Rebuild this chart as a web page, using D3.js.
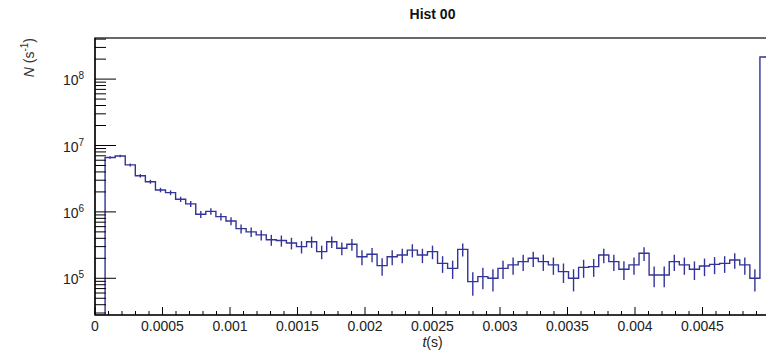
<!DOCTYPE html>
<html>
<head>
<meta charset="utf-8">
<script src="https://cdn.jsdelivr.net/npm/d3@7/dist/d3.min.js"></script>
<style>
  html, body { margin: 0; padding: 0; background: #fff; }
  svg { display: block; font-family: "Liberation Sans", Arial, sans-serif; }
</style>
</head>
<body>
<svg id="chart" width="766" height="355"></svg>
<script>
// Histogram definition: time range and number of bins
const title = "Hist 00";
const xMin = 0;
const xMax = 0.005;
const nBins = 67;

// Bin contents, rate N in s^-1 (bin 0 is empty)
const rates = [
  0, 6.6e6, 6.95e6, 5.1e6, 3.5e6, 2.85e6, 2.14e6, 1.95e6, 1.55e6, 1.32e6,
  9.2e5, 1.02e6, 8.5e5, 7.3e5, 5.6e5, 5.0e5, 4.5e5, 3.8e5, 3.7e5, 3.4e5,
  3.0e5, 3.56e5, 2.52e5, 3.56e5, 2.83e5, 3.25e5, 2.11e5, 2.3e5, 1.55e5, 2.11e5,
  2.24e5, 2.66e5, 2.24e5, 2.52e5, 1.68e5, 1.41e5, 2.73e5, 8.9e4, 1.06e5, 1.0e5,
  1.41e5, 1.59e5, 1.78e5, 2.0e5, 1.78e5, 1.59e5, 1.26e5, 1.0e5, 1.46e5, 1.5e5,
  2.24e5, 1.78e5, 1.37e5, 1.59e5, 2.38e5, 1.12e5, 1.12e5, 1.78e5, 1.59e5, 1.37e5,
  1.53e5, 1.62e5, 1.68e5, 1.89e5, 1.59e5, 1.0e5, 2.15e8
];

// Axis ticks and labels (the 0.005 edge sits at the very border and is not labelled)
const xTickValues = [0, 0.0005, 0.001, 0.0015, 0.002, 0.0025, 0.003, 0.0035, 0.004, 0.0045];
const xTickLabels = ["0", "0.0005", "0.001", "0.0015", "0.002", "0.0025", "0.003", "0.0035", "0.004", "0.0045"];
const yDecadeExponents = [5, 6, 7, 8];
const yRange = [2.8e4, 4.16e8];

// Frame geometry
const frame = { left: 95, right: 770, top: 38, bottom: 315 };
const lineColor = "#333399";

const svg = d3.select("#chart");

const x = d3.scaleLinear().domain([xMin, xMax]).range([frame.left, frame.right]);
const y = d3.scaleLog().domain(yRange).range([frame.bottom, frame.top]).clamp(true);

const binWidth = (xMax - xMin) / nBins;
const bins = rates.map((v, i) => ({
  lo: xMin + i * binWidth,
  hi: xMin + (i + 1) * binWidth,
  mid: xMin + (i + 0.5) * binWidth,
  v,
  // Poisson uncertainty of the rate: sqrt(counts) / binWidth
  err: Math.sqrt(v / binWidth)
}));

svg.append("defs").append("clipPath").attr("id", "frameClip")
  .append("rect")
  .attr("x", frame.left).attr("y", frame.top - 1)
  .attr("width", frame.right - frame.left).attr("height", frame.bottom - frame.top + 1);
const plot = svg.append("g").attr("clip-path", "url(#frameClip)");

const yv = v => (v > 0 ? y(v) : frame.bottom);

// Step outline of the histogram
const pts = [[x(xMin), frame.bottom]];
bins.forEach(b => {
  pts.push([x(b.lo), yv(b.v)]);
  pts.push([x(b.hi), yv(b.v)]);
});
pts.push([x(xMax), frame.bottom]);

plot.append("path")
  .attr("d", d3.line()(pts))
  .attr("fill", "none")
  .attr("stroke", lineColor)
  .attr("stroke-width", 1.4);

// Vertical error bars at bin centres
plot.selectAll("line.err")
  .data(bins.filter(b => b.v > 0))
  .join("line")
  .attr("class", "err")
  .attr("x1", b => x(b.mid)).attr("x2", b => x(b.mid))
  .attr("y1", b => yv(Math.max(b.v - b.err, 0)))
  .attr("y2", b => yv(b.v + b.err))
  .attr("stroke", lineColor)
  .attr("stroke-width", 1.4);

// Frame
svg.append("rect")
  .attr("x", frame.left).attr("y", frame.top)
  .attr("width", frame.right - frame.left).attr("height", frame.bottom - frame.top)
  .attr("fill", "none")
  .attr("stroke", "#444")
  .attr("stroke-width", 1.6);

// X axis: ticks point into the frame
const xAxisG = svg.append("g");
xAxisG.append("line")
  .attr("x1", frame.left).attr("x2", frame.right)
  .attr("y1", frame.bottom).attr("y2", frame.bottom)
  .attr("stroke", "#000").attr("stroke-width", 1.2);

const xMinor = d3.range(0, 51).map(i => i * 0.0001).filter(t => t <= xMax + 1e-12);
xAxisG.selectAll("line.xminor")
  .data(xMinor)
  .join("line")
  .attr("class", "xminor")
  .attr("x1", d => x(d)).attr("x2", d => x(d))
  .attr("y1", frame.bottom).attr("y2", (d, i) => frame.bottom - (i % 5 === 0 ? 8 : 4))
  .attr("stroke", "#000").attr("stroke-width", 1);

xAxisG.selectAll("text.xlab")
  .data(xTickValues.map((v, i) => ({ v, label: xTickLabels[i] })))
  .join("text")
  .attr("class", "xlab")
  .attr("x", d => x(d.v))
  .attr("y", frame.bottom + 16)
  .attr("text-anchor", "middle")
  .attr("font-size", 14)
  .attr("fill", "#222")
  .text(d => d.label);

// X axis title
const xTitle = svg.append("text")
  .attr("x", (frame.left + frame.right) / 2)
  .attr("y", frame.bottom + 32)
  .attr("text-anchor", "middle")
  .attr("font-size", 14)
  .attr("fill", "#222");
xTitle.append("tspan").attr("font-style", "italic").text("t");
xTitle.append("tspan").text("(s)");

// Y axis: log ticks inside the frame
const yAxisG = svg.append("g");
yAxisG.append("line")
  .attr("x1", frame.left).attr("x2", frame.left)
  .attr("y1", frame.top).attr("y2", frame.bottom)
  .attr("stroke", "#000").attr("stroke-width", 1.2);

const yTicks = [];
for (let e = 4; e <= 8; e++) {
  for (let m = 1; m <= 9; m++) {
    const v = m * Math.pow(10, e);
    if (v >= yRange[0] && v <= yRange[1]) yTicks.push({ v, major: m === 1 });
  }
}
yAxisG.selectAll("line.ytick")
  .data(yTicks)
  .join("line")
  .attr("class", "ytick")
  .attr("x1", frame.left).attr("x2", d => frame.left + (d.major ? 21 : 11))
  .attr("y1", d => y(d.v)).attr("y2", d => y(d.v))
  .attr("stroke", "#000").attr("stroke-width", 1);

const yLab = yAxisG.selectAll("text.ylab")
  .data(yDecadeExponents)
  .join("text")
  .attr("class", "ylab")
  .attr("x", frame.left - 32)
  .attr("y", d => y(Math.pow(10, d)) + 6)
  .attr("font-size", 14)
  .attr("fill", "#222");
yLab.append("tspan").text("10");
yLab.append("tspan").attr("dy", -6).attr("font-size", 10).text(d => d);

// Y axis title, rotated and aligned to the top of the axis
const yTitle = svg.append("text")
  .attr("transform", `translate(34, ${frame.top}) rotate(-90)`)
  .attr("text-anchor", "end")
  .attr("font-size", 14)
  .attr("fill", "#333");
yTitle.append("tspan").attr("font-style", "italic").text("N");
yTitle.append("tspan").text(" (s");
yTitle.append("tspan").attr("dy", -6).attr("font-size", 10).text("-1");
yTitle.append("tspan").attr("dy", 6).text(")");

// Title
svg.append("text")
  .attr("x", (frame.left + frame.right) / 2)
  .attr("y", 19)
  .attr("text-anchor", "middle")
  .attr("font-size", 14)
  .attr("font-weight", "bold")
  .attr("fill", "#111")
  .text(title);
</script>
</body>
</html>
